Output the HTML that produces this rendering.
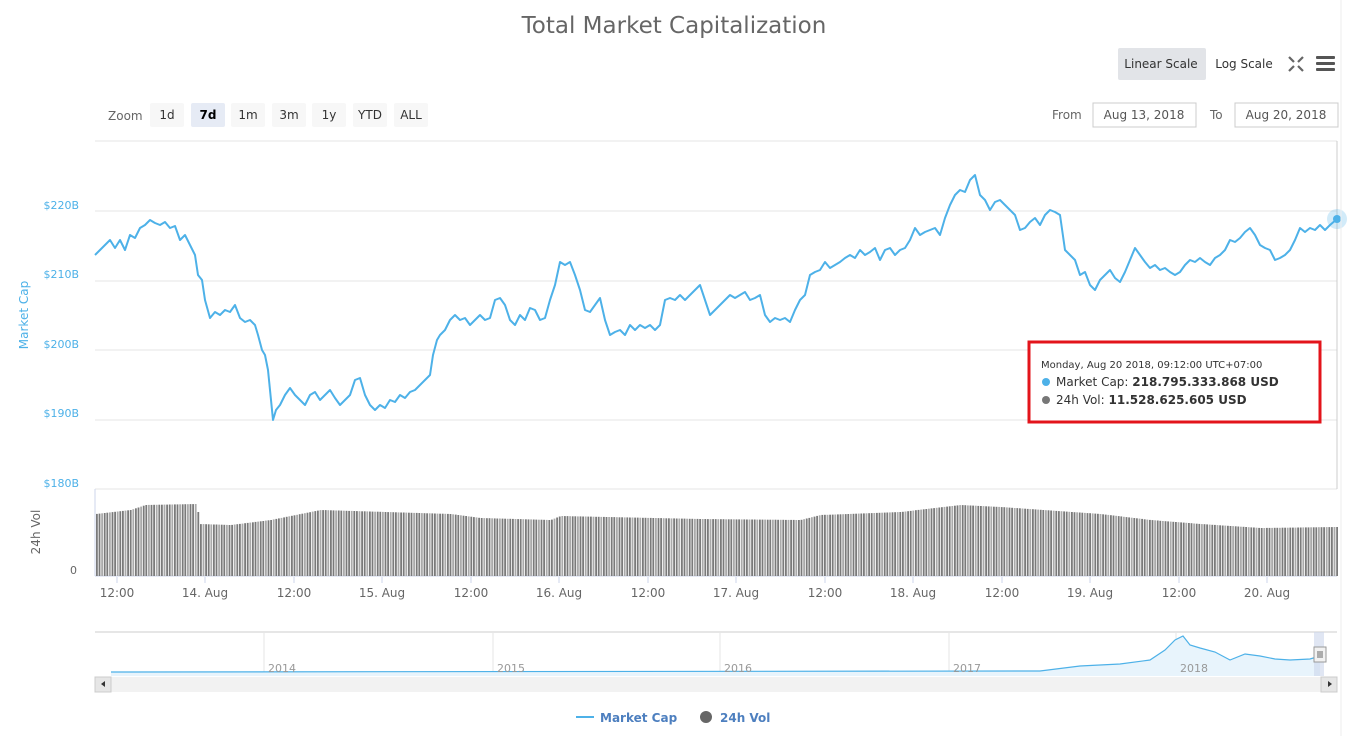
<!DOCTYPE html>
<html><head><meta charset="utf-8"><style>
body{margin:0;background:#fff;font-family:"DejaVu Sans","Liberation Sans",sans-serif;}
svg text{font-family:"DejaVu Sans","Liberation Sans",sans-serif;}
</style></head><body>
<svg id="s" width="1352" height="736" viewBox="0 0 1352 736" xmlns="http://www.w3.org/2000/svg">
<text x="674" y="33" text-anchor="middle" font-size="23" fill="#666">Total Market Capitalization</text>
<rect x="1118" y="48" width="88" height="32" rx="2" fill="#e2e4e8"/>
<text x="1161" y="68" text-anchor="middle" font-size="12" fill="#333">Linear Scale</text>
<text x="1244" y="68" text-anchor="middle" font-size="12" fill="#333">Log Scale</text>
<g stroke="#666" stroke-width="2.2" fill="none"><path d="M1289 57l5 5M1303 57l-5 5M1289 71l5-5M1303 71l-5-5"/></g>
<g fill="#555"><rect x="1316" y="56" width="19" height="3" rx="1"/><rect x="1316" y="62" width="19" height="3" rx="1"/><rect x="1316" y="68" width="19" height="3" rx="1"/></g>
<text x="108" y="120" font-size="12" fill="#666">Zoom</text>
<g font-size="12" fill="#333" text-anchor="middle">
<rect x="150" y="103" width="34" height="24" rx="2" fill="#f7f7f7"/><text x="167" y="119">1d</text>
<rect x="191" y="103" width="34" height="24" rx="2" fill="#e6ebf5"/><text x="208" y="119" font-weight="bold" fill="#000">7d</text>
<rect x="231" y="103" width="34" height="24" rx="2" fill="#f7f7f7"/><text x="248" y="119">1m</text>
<rect x="272" y="103" width="34" height="24" rx="2" fill="#f7f7f7"/><text x="289" y="119">3m</text>
<rect x="312" y="103" width="34" height="24" rx="2" fill="#f7f7f7"/><text x="329" y="119">1y</text>
<rect x="353" y="103" width="34" height="24" rx="2" fill="#f7f7f7"/><text x="370" y="119">YTD</text>
<rect x="394" y="103" width="34" height="24" rx="2" fill="#f7f7f7"/><text x="411" y="119">ALL</text>
</g>
<text x="1052" y="119" font-size="12" fill="#666">From</text>
<rect x="1093" y="103" width="103" height="24" fill="#fff" stroke="#ccc"/>
<text x="1144" y="119" text-anchor="middle" font-size="12" fill="#555">Aug 13, 2018</text>
<text x="1210" y="119" font-size="12" fill="#666">To</text>
<rect x="1235" y="103" width="103" height="24" fill="#fff" stroke="#ccc"/>
<text x="1286" y="119" text-anchor="middle" font-size="12" fill="#555">Aug 20, 2018</text>
<g stroke="#e6e6e6" stroke-width="1">
<line x1="95" y1="141" x2="1337" y2="141"/><line x1="95" y1="211" x2="1337" y2="211"/><line x1="95" y1="281" x2="1337" y2="281"/><line x1="95" y1="350" x2="1337" y2="350"/><line x1="95" y1="420" x2="1337" y2="420"/><line x1="95" y1="489" x2="1337" y2="489"/>
</g>
<line x1="1337" y1="141" x2="1337" y2="489" stroke="#ccc"/>
<line x1="95" y1="489" x2="95" y2="576" stroke="#ccd6eb"/>
<line x1="95" y1="576" x2="1337" y2="576" stroke="#ccd6eb"/>
<g font-size="11" fill="#4db1e8" text-anchor="end">
<text x="79" y="209">$220B</text><text x="79" y="278">$210B</text><text x="79" y="348">$200B</text><text x="79" y="417">$190B</text><text x="79" y="487">$180B</text></g>
<text x="77" y="574" font-size="11" fill="#666" text-anchor="end">0</text>
<text transform="translate(28,315) rotate(-90)" text-anchor="middle" font-size="12" fill="#4db1e8">Market Cap</text>
<text transform="translate(40,532) rotate(-90)" text-anchor="middle" font-size="12" fill="#666">24h Vol</text>
<g id="bars" fill="#888"></g>
<g font-size="12" fill="#666" text-anchor="middle">
<text x="117" y="597">12:00</text><text x="205" y="597">14. Aug</text><text x="294" y="597">12:00</text><text x="382" y="597">15. Aug</text><text x="471" y="597">12:00</text><text x="559" y="597">16. Aug</text><text x="648" y="597">12:00</text><text x="736" y="597">17. Aug</text><text x="825" y="597">12:00</text><text x="913" y="597">18. Aug</text><text x="1002" y="597">12:00</text><text x="1090" y="597">19. Aug</text><text x="1179" y="597">12:00</text><text x="1267" y="597">20. Aug</text></g>
<g stroke="#ccd6eb"><path d="M117 577v6M205 577v6M294 577v6M382 577v6M471 577v6M559 577v6M648 577v6M736 577v6M825 577v6M913 577v6M1002 577v6M1090 577v6M1179 577v6M1267 577v6"/></g>
<polyline fill="none" stroke="#4db1e8" stroke-width="2" stroke-linejoin="round" points="95,255 100,250 105,245 110,240 115,248 120,240 125,250 130,235 135,238 140,228 145,225 150,220 155,223 160,225 165,222 170,228 175,226 180,240 185,235 190,245 195,255 198,275 202,280 205,300 210,318 215,312 220,315 225,310 230,312 235,305 240,318 245,322 250,320 255,325 258,335 262,350 265,355 268,370 270,390 273,420 276,410 280,405 285,395 290,388 295,395 300,400 305,405 310,395 315,392 320,400 325,395 330,390 335,398 340,405 345,400 350,395 355,380 360,378 365,395 370,405 375,410 380,405 385,408 390,400 395,402 400,395 405,398 410,392 415,390 420,385 425,380 430,375 433,355 437,340 440,335 445,330 450,320 455,315 460,320 465,318 470,325 475,320 480,315 485,320 490,318 495,300 500,298 505,305 510,320 515,325 520,315 525,320 530,308 535,310 540,320 545,318 550,300 555,285 560,262 565,265 570,262 575,275 580,290 585,310 590,312 595,305 600,298 605,320 610,335 615,332 620,330 625,335 630,325 635,330 640,325 645,328 650,325 655,330 660,325 665,300 670,298 675,300 680,295 685,300 690,295 695,290 700,285 705,300 710,315 715,310 720,305 725,300 730,295 735,298 740,295 745,292 750,300 755,298 760,295 765,315 770,322 775,318 780,320 785,318 790,322 795,310 800,300 805,295 810,275 815,272 820,270 825,262 830,268 835,265 840,262 845,258 850,255 855,258 860,250 865,255 870,252 875,248 880,260 885,250 890,248 895,255 900,250 905,248 910,240 915,228 920,235 925,232 930,230 935,228 940,235 945,218 950,205 955,195 960,190 965,192 970,180 975,175 980,195 985,200 990,210 995,202 1000,200 1005,205 1010,210 1015,215 1020,230 1025,228 1030,222 1035,218 1040,225 1045,215 1050,210 1055,212 1060,215 1065,250 1070,255 1075,260 1080,275 1085,272 1090,285 1095,290 1100,280 1105,275 1110,270 1115,278 1120,282 1125,272 1130,260 1135,248 1140,255 1145,262 1150,268 1155,265 1160,270 1165,268 1170,272 1175,275 1180,272 1185,265 1190,260 1195,262 1200,258 1205,262 1210,265 1215,258 1220,255 1225,250 1230,240 1235,242 1240,238 1245,232 1250,228 1255,235 1260,245 1265,248 1270,250 1275,260 1280,258 1285,255 1290,250 1295,240 1300,228 1305,232 1310,228 1315,230 1320,225 1325,230 1330,225 1337,219"/>
<circle cx="1337" cy="219" r="10" fill="#4db1e8" opacity="0.25"/>
<circle cx="1337" cy="219" r="4" fill="#4db1e8"/>
<rect x="1029" y="342" width="291" height="80" fill="#fff" stroke="#e3141b" stroke-width="3"/>
<text x="1041" y="368" font-size="10" fill="#333">Monday, Aug 20 2018, 09:12:00 UTC+07:00</text>
<circle cx="1046" cy="382" r="4" fill="#4db1e8"/>
<text x="1056" y="386" font-size="12" fill="#333">Market Cap: <tspan font-weight="bold">218.795.333.868 USD</tspan></text>
<circle cx="1046" cy="400" r="4" fill="#777"/>
<text x="1056" y="404" font-size="12" fill="#333">24h Vol: <tspan font-weight="bold">11.528.625.605 USD</tspan></text>
<line x1="95" y1="632" x2="1337" y2="632" stroke="#ccc"/>
<g stroke="#e6e6e6"><path d="M264 632v44M493 632v44M720 632v44M949 632v44M1176 632v44"/></g>
<path d="M111 672 L1040 671 L1080 666 L1120 664 L1150 660 L1165 650 L1175 640 L1183 636 L1190 645 L1200 648 L1215 652 L1230 660 L1245 654 L1260 656 L1275 659 L1290 660 L1310 659 L1320 656 L1320 676 L111 676Z" fill="#e8f4fc"/>
<polyline fill="none" stroke="#4db1e8" stroke-width="1.2" points="111,672 1040,671 1080,666 1120,664 1150,660 1165,650 1175,640 1183,636 1190,645 1200,648 1215,652 1230,660 1245,654 1260,656 1275,659 1290,660 1310,659 1320,656"/>
<g font-size="11" fill="#999"><text x="268" y="672">2014</text><text x="497" y="672">2015</text><text x="724" y="672">2016</text><text x="953" y="672">2017</text><text x="1180" y="672">2018</text></g>
<rect x="1314" y="632" width="10" height="44" fill="#ccd6eb" opacity="0.6"/>
<rect x="1314" y="647" width="12" height="15" fill="#f2f2f2" stroke="#999"/>
<path d="M1318 651v7M1320 651v7M1322 651v7" stroke="#666"/>
<rect x="95" y="677" width="1242" height="15" fill="#f2f2f2"/>
<rect x="95" y="677" width="16" height="15" fill="#e6e6e6" stroke="#ccc"/>
<path d="M101 684l4-3v6z" fill="#333"/>
<rect x="1321" y="677" width="16" height="15" fill="#e6e6e6" stroke="#ccc"/>
<path d="M1332 684l-4-3v6z" fill="#333"/>
<line x1="1341" y1="0" x2="1341" y2="736" stroke="#eee"/>
<line x1="576" y1="717" x2="594" y2="717" stroke="#4db1e8" stroke-width="2"/>
<text x="600" y="722" font-size="12" font-weight="bold" fill="#4d7fbf">Market Cap</text>
<circle cx="706" cy="717" r="6" fill="#666"/>
<text x="720" y="722" font-size="12" font-weight="bold" fill="#4d7fbf">24h Vol</text>
</svg>
<script>
var k=[[95,514],[130,510],[145,505],[197,504],[198,524],[230,525],[270,520],[320,510],[385,512],[450,514],[480,518],[550,520],[560,516],[700,519],[800,520],[820,515],[900,512],[960,505],[1000,507],[1100,514],[1150,520],[1200,524],[1260,528],[1337,527]];
function f(x){for(var i=0;i<k.length-1;i++){if(x<=k[i+1][0]){var t=(x-k[i][0])/(k[i+1][0]-k[i][0]);return k[i][1]+t*(k[i+1][1]-k[i][1]);}}return 527;}
var g=document.getElementById('bars'),h='';
for(var x=96;x<1337;x+=2.6){var y=f(x);var c=(Math.round(x/2.6)%3==0)?'#aaa':'#7a7a7a';h+='<rect x="'+x.toFixed(1)+'" y="'+y.toFixed(1)+'" width="1.8" height="'+(576-y).toFixed(1)+'" fill="'+c+'"/>';}
g.innerHTML=h;
</script>
</body></html>
